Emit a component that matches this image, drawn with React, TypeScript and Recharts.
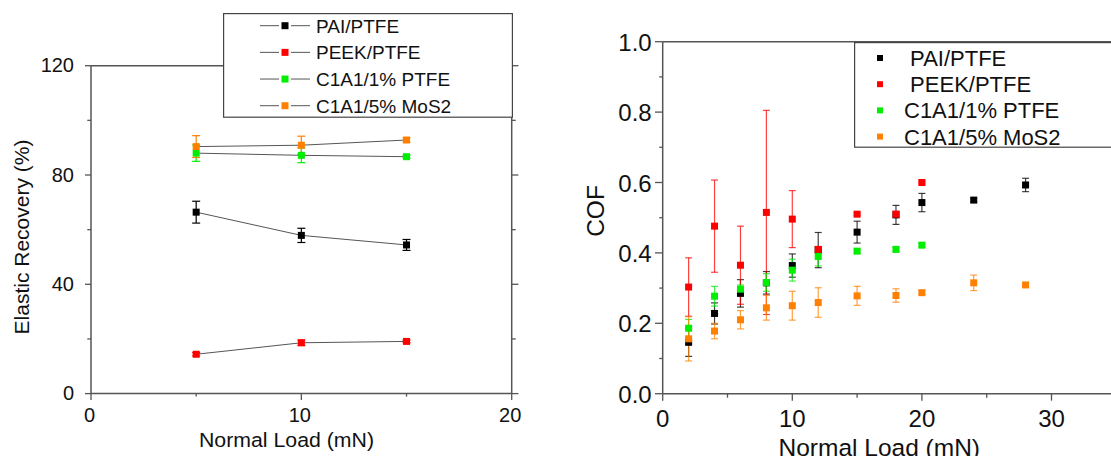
import React from 'react';
import { ScatterChart, Scatter, XAxis, YAxis, ErrorBar, Legend } from 'recharts';

const FONT = '"Liberation Sans", Arial, sans-serif';
const AXIS = '#555555';
const TEXT = '#111111';

// ---------- shared series info ----------
const seriesNames = ['PAI/PTFE', 'PEEK/PTFE', 'C1A1/1% PTFE', 'C1A1/5% MoS2'];
const rightLegendNames = [' PAI/PTFE', ' PEEK/PTFE', 'C1A1/1% PTFE', 'C1A1/5% MoS2'];
const seriesColors = ['#000000', '#ff0000', '#00ee00', '#ff8000'];

// ---------- left chart: Elastic Recovery (%) ----------
const erLoads = [5, 10, 15];
const erPai = [66.4, 57.9, 54.4];
const erPaiErr = [4, 2.6, 2];
const erPeek = [14.4, 18.6, 19.1];
const erPeekErr = [0.6, 1, 0.5];
const erPtfe = [88.0, 87.2, 86.7];
const erPtfeErr = [3, 2.7, 0.5];
const erMos = [90.4, 90.9, 92.8];
const erMosErr = [4, 3.3, 0.8];

const leftXTicks = [0, 5, 10, 15, 20];
const leftYTicks = [0, 20, 40, 60, 80, 100, 120];

// ---------- right chart: COF ----------
const cofLoadsPai = [2, 4, 6, 8, 10, 12, 15, 18, 20, 24, 28];
const cofPai = [0.146, 0.228, 0.285, 0.315, 0.364, 0.408, 0.459, 0.508, 0.543, 0.55, 0.593];
const cofPaiErr = [0.04, 0.03, 0.039, 0.032, 0.033, 0.05, 0.031, 0.027, 0.026, 0.005, 0.019];
const cofLoadsPeek = [2, 4, 6, 8, 10, 12, 15, 18, 20];
const cofPeek = [0.303, 0.476, 0.365, 0.515, 0.496, 0.41, 0.51, 0.51, 0.6];
const cofPeekErr = [0.083, 0.131, 0.111, 0.29, 0.081, 0.008, 0.004, 0.008, 0.004];
const cofLoadsPtfe = [2, 4, 6, 8, 10, 12, 15, 18, 20];
const cofPtfe = [0.186, 0.277, 0.297, 0.316, 0.351, 0.39, 0.405, 0.41, 0.422];
const cofPtfeErr = [0.025, 0.028, 0.012, 0.025, 0.031, 0.027, 0.005, 0.006, 0.005];
const cofLoadsMos = [2, 4, 6, 8, 10, 12, 15, 18, 20, 24, 28];
const cofMos = [0.156, 0.178, 0.21, 0.244, 0.25, 0.259, 0.278, 0.279, 0.287, 0.315, 0.309];
const cofMosErr = [0.063, 0.022, 0.026, 0.035, 0.041, 0.042, 0.027, 0.019, 0.005, 0.022, 0.004];

const rightXTicks = [0, 5, 10, 15, 20, 25, 30, 35];
const rightYTicks = [0, 0.1, 0.2, 0.3, 0.4, 0.5, 0.6, 0.7, 0.8, 0.9, 1.0];

// ---------- helpers ----------
const mk = (xs: number[], ys: number[], es: number[]) =>
  xs.map((x, i) => ({ x, y: ys[i], err: es[i] }));

const leftSeries = [
  mk(erLoads, erPai, erPaiErr),
  mk(erLoads, erPeek, erPeekErr),
  mk(erLoads, erPtfe, erPtfeErr),
  mk(erLoads, erMos, erMosErr),
];
const rightSeries = [
  mk(cofLoadsPai, cofPai, cofPaiErr),
  mk(cofLoadsPeek, cofPeek, cofPeekErr),
  mk(cofLoadsPtfe, cofPtfe, cofPtfeErr),
  mk(cofLoadsMos, cofMos, cofMosErr),
];

const square = (size: number, color: string) => (props: any) => {
  const { cx, cy } = props;
  if (cx == null || cy == null) return <g />;
  return <rect x={cx - size / 2} y={cy - size / 2} width={size} height={size} fill={color} />;
};

type Side = 'bottom' | 'left' | 'top' | 'right';
interface TickOpts {
  side: Side;
  isMajor: (v: number) => boolean;
  fmt?: (v: number) => string;
  majorLen: number;
  minorLen: number;
  fontSize?: number;
  offX?: number;
  offY?: number;
}

const makeTick = (o: TickOpts) => (props: any) => {
  const { x, y, payload } = props;
  const v = payload.value as number;
  const major = o.isMajor(v);
  const len = major ? o.majorLen : o.minorLen;
  let x2 = x;
  let y2 = y;
  if (o.side === 'bottom') y2 = y + len;
  if (o.side === 'top') y2 = y + len; // inward
  if (o.side === 'left') x2 = x - len;
  if (o.side === 'right') x2 = x + len;
  let label: React.ReactNode = null;
  if (o.fmt && major) {
    const anchor = o.side === 'left' ? 'end' : 'middle';
    label = (
      <text
        x={x + (o.offX || 0)}
        y={y + (o.offY || 0)}
        textAnchor={anchor}
        fontSize={o.fontSize}
        fontFamily={FONT}
        fill={TEXT}
      >
        {o.fmt(v)}
      </text>
    );
  }
  return (
    <g>
      <line x1={x} y1={y} x2={x2} y2={y2} stroke={AXIS} strokeWidth={1.3} />
      {label}
    </g>
  );
};

const LeftLegend = () => (
  <svg width={290} height={105} style={{ display: 'block' }}>
    <rect x={0.6} y={0.6} width={288.8} height={103.6} fill="#ffffff" stroke="#444" strokeWidth={1.2} />
    {seriesNames.map((n, i) => {
      const cy = 12.7 + i * 26.67;
      return (
        <g key={n}>
          <line x1={37} y1={cy} x2={56} y2={cy} stroke="#555" strokeWidth={1} />
          <line x1={68} y1={cy} x2={87} y2={cy} stroke="#555" strokeWidth={1} />
          <rect x={62 - 3.5} y={cy - 3.5} width={7} height={7} fill={seriesColors[i]} />
          <text x={93} y={cy + 7} fontSize={19} fontFamily={FONT} fill={TEXT}>
            {n}
          </text>
        </g>
      );
    })}
  </svg>
);

const RightLegend = () => (
  <svg width={320} height={106} style={{ display: 'block' }}>
    <rect x={0.6} y={0.6} width={330} height={104.6} fill="#ffffff" stroke="#444" strokeWidth={1.2} />
    {rightLegendNames.map((n, i) => {
      const cy = 16 + i * 26.2;
      return (
        <g key={n}>
          <rect x={26 - 3} y={cy - 3} width={6} height={6} fill={seriesColors[i]} />
          <text x={50} y={cy + 8} fontSize={22} fontFamily={FONT} fill={TEXT} style={{ whiteSpace: 'pre' }} xmlSpace="preserve">
            {n}
          </text>
        </g>
      );
    })}
  </svg>
);

export default function App() {
  const axisLine = { stroke: AXIS, strokeWidth: 1.5 };
  return (
    <div
      style={{
        position: 'absolute',
        left: 0,
        top: 0,
        width: 1111,
        height: 456,
        overflow: 'hidden',
        background: '#ffffff',
      }}
    >
      {/* Left chart */}
      <div style={{ position: 'absolute', left: 0, top: 0 }}>
        <ScatterChart width={540} height={456} margin={{ top: 55.7, right: 18.3, bottom: 0, left: 0 }}>
          <XAxis
            xAxisId={0}
            type="number"
            dataKey="x"
            domain={[0, 20]}
            ticks={leftXTicks}
            interval={0}
            height={62.4}
            axisLine={axisLine}
            tickLine={false}
            tickSize={0}
            tickMargin={0}
            allowDataOverflow
            tick={makeTick({
              side: 'bottom',
              isMajor: (v) => v % 10 === 0,
              fmt: (v) => String(v),
              majorLen: 6.3,
              minorLen: 3,
              fontSize: 20,
              offX: -1.5,
              offY: 28,
            })}
            label={() => (
              <text
                x={199}
                y={447}
                fontSize={20.5}
                fontFamily={FONT}
                fill={TEXT}
                textLength={175}
                lengthAdjust="spacingAndGlyphs"
              >
                Normal Load (mN)
              </text>
            )}
          />
          <XAxis
            xAxisId="top"
            orientation="top"
            type="number"
            domain={[0, 20]}
            ticks={leftXTicks}
            interval={0}
            height={10}
            axisLine={axisLine}
            tickLine={false}
            tickSize={0}
            tickMargin={0}
            allowDataOverflow
            tick={makeTick({ side: 'top', isMajor: (v) => v % 10 === 0, majorLen: 5, minorLen: 3.7 })}
          />
          <YAxis
            yAxisId={0}
            type="number"
            dataKey="y"
            domain={[0, 120]}
            ticks={leftYTicks}
            interval={0}
            width={91}
            axisLine={axisLine}
            tickLine={false}
            tickSize={0}
            tickMargin={0}
            allowDataOverflow
            tick={makeTick({
              side: 'left',
              isMajor: (v) => v % 40 === 0,
              fmt: (v) => String(v),
              majorLen: 6,
              minorLen: 3.7,
              fontSize: 20,
              offX: -17,
              offY: 6.5,
            })}
            label={() => (
              <text
                transform="translate(29,237) rotate(-90)"
                textAnchor="middle"
                fontSize={21}
                fontFamily={FONT}
                fill={TEXT}
              >
                Elastic Recovery (%)
              </text>
            )}
          />
          <YAxis
            yAxisId="right"
            orientation="right"
            type="number"
            domain={[0, 120]}
            ticks={leftYTicks}
            interval={0}
            width={10}
            axisLine={axisLine}
            tickLine={false}
            tickSize={0}
            tickMargin={0}
            allowDataOverflow
            tick={makeTick({ side: 'right', isMajor: (v) => v % 40 === 0, majorLen: 6.7, minorLen: 4 })}
          />
          {leftSeries.map((s, i) => (
            <Scatter
              key={seriesNames[i]}
              name={seriesNames[i]}
              data={s}
              fill={seriesColors[i]}
              line={{ stroke: '#555', strokeWidth: 1 }}
              lineType="joint"
              shape={square(7, seriesColors[i])}
              isAnimationActive={false}
            >
              <ErrorBar dataKey="err" direction="y" width={4} stroke={seriesColors[i]} strokeWidth={1.2} />
            </Scatter>
          ))}
          <Legend
            layout="vertical"
            align="center"
            verticalAlign="middle"
            content={() => <LeftLegend />}
            wrapperStyle={{ position: 'absolute', left: 222.7, top: 13.3, width: 290, height: 105 }}
          />
        </ScatterChart>
      </div>

      {/* Right chart */}
      <div style={{ position: 'absolute', left: 540, top: 0 }}>
        <ScatterChart width={600} height={456} margin={{ top: 31.7, right: 13.7, bottom: 0, left: 0 }}>
          <XAxis
            xAxisId={0}
            type="number"
            dataKey="x"
            domain={[0, 35]}
            ticks={rightXTicks}
            interval={0}
            height={62.3}
            axisLine={axisLine}
            tickLine={false}
            tickSize={0}
            tickMargin={0}
            allowDataOverflow
            tick={makeTick({
              side: 'bottom',
              isMajor: (v) => v % 10 === 0,
              fmt: (v) => String(v),
              majorLen: 7,
              minorLen: 4,
              fontSize: 24,
              offY: 33,
            })}
            label={() => (
              <text x={238.5} y={455.5} fontSize={24.5} fontFamily={FONT} fill={TEXT}>
                Normal Load (mN)
              </text>
            )}
          />
          <XAxis
            xAxisId="top"
            orientation="top"
            type="number"
            domain={[0, 35]}
            ticks={rightXTicks}
            interval={0}
            height={10}
            axisLine={axisLine}
            tickLine={false}
            tickSize={0}
            tickMargin={0}
            allowDataOverflow
            tick={makeTick({ side: 'top', isMajor: (v) => v % 10 === 0, majorLen: 5.5, minorLen: 4 })}
          />
          <YAxis
            yAxisId={0}
            type="number"
            dataKey="y"
            domain={[0, 1]}
            ticks={rightYTicks}
            interval={0}
            width={122.7}
            axisLine={axisLine}
            tickLine={false}
            tickSize={0}
            tickMargin={0}
            allowDataOverflow
            tick={makeTick({
              side: 'left',
              isMajor: (v) => Math.round(v * 10) % 2 === 0,
              fmt: (v) => v.toFixed(1),
              majorLen: 7.7,
              minorLen: 3.4,
              fontSize: 24,
              offX: -11,
              offY: 9,
            })}
            label={() => (
              <text
                transform="translate(63.5,211) rotate(-90)"
                textAnchor="middle"
                fontSize={24.5}
                fontFamily={FONT}
                fill={TEXT}
              >
                COF
              </text>
            )}
          />
          <YAxis
            yAxisId="right"
            orientation="right"
            type="number"
            domain={[0, 1]}
            ticks={rightYTicks}
            interval={0}
            width={10}
            axisLine={axisLine}
            tickLine={false}
            tickSize={0}
            tickMargin={0}
            allowDataOverflow
            tick={makeTick({ side: 'right', isMajor: (v) => Math.round(v * 10) % 2 === 0, majorLen: 7, minorLen: 4 })}
          />
          {rightSeries.map((s, i) => (
            <Scatter
              key={seriesNames[i]}
              name={seriesNames[i]}
              data={s}
              fill={seriesColors[i]}
              shape={square(7, seriesColors[i])}
              isAnimationActive={false}
            >
              <ErrorBar dataKey="err" direction="y" width={3.5} stroke={seriesColors[i]} strokeWidth={1.2} strokeOpacity={0.75} />
            </Scatter>
          ))}
          <Legend
            layout="vertical"
            align="center"
            verticalAlign="middle"
            content={() => <RightLegend />}
            wrapperStyle={{ position: 'absolute', left: 314, top: 42.3, width: 320, height: 106 }}
          />
        </ScatterChart>
      </div>
    </div>
  );
}
